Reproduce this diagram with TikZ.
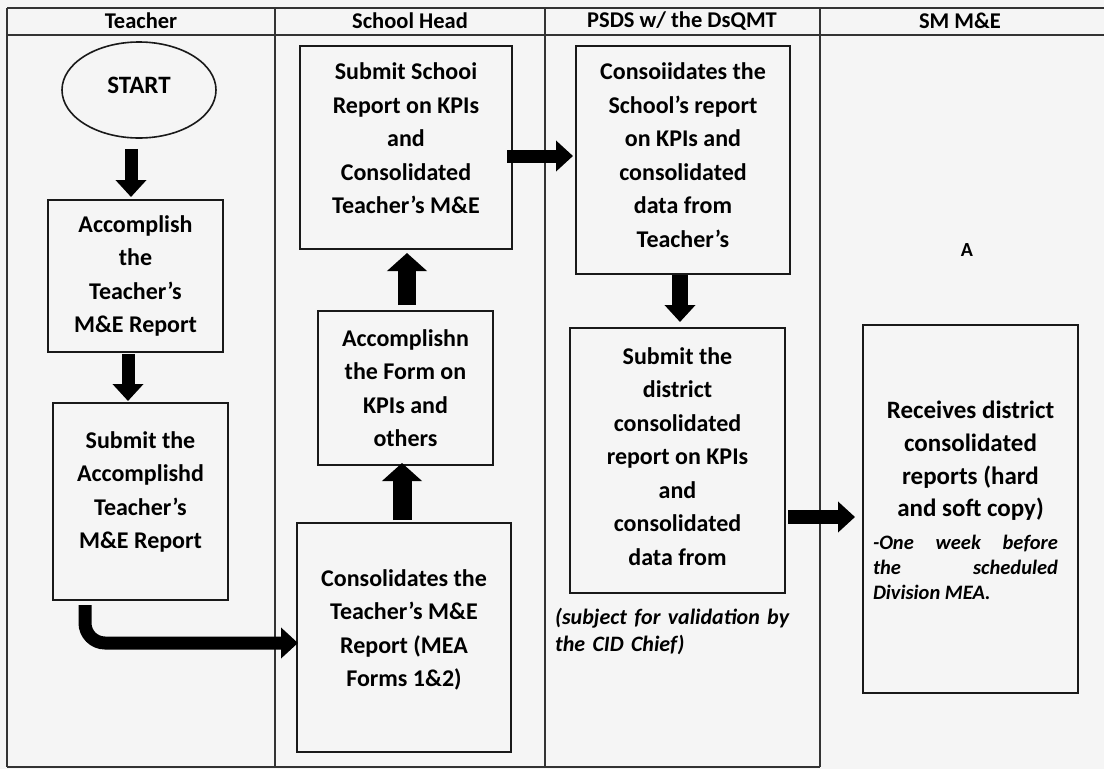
\documentclass[tikz,border=0pt]{standalone}
\usepackage{fontspec}
\setmainfont{Carlito}
\usetikzlibrary{arrows.meta,shapes.geometric}
\begin{document}
\begin{tikzpicture}[x=1pt,y=-1pt,
  rule/.style={draw=black!80,line width=1.1pt},
  box/.style={draw=black!90,line width=2pt,rectangle,inner sep=0pt,outer sep=0pt},
  txt/.style={align=center,inner sep=0pt,font=\fontsize{24}{33.5}\selectfont\bfseries},
  hdr/.style={inner sep=0pt,font=\fontsize{22.5}{26}\selectfont\bfseries},
  note/.style={inner sep=0pt,font=\fontsize{22}{27}\selectfont\bfseries\itshape},
  fat/.style={draw=black,line width=#1},
  tipS/.style={-{Triangle[width=30pt,length=17pt]}},
  tipL/.style={-{Triangle[width=39pt,length=18pt]}},
]
\useasboundingbox (0,0) rectangle (1104,769);
\fill[black!4] (0,0) rectangle (1104,769);

% lane grid
\draw[rule] (7,8) -- (1104,8);
\draw[rule] (7,35) -- (1104,35);
\draw[rule] (7,767) -- (820,767);
\foreach \x in {7,275,545,820} \draw[rule] (\x,8) -- (\x,767);

% lane titles
\node[hdr] (h1) at (141,21) {Teacher};
\node[hdr] (h2) at (410,21) {School Head};
\node[hdr] (h3) at (682,21) {PSDS w/ the DsQMT};
\node[hdr] (h4) at (960,21) {SM M\&E};

% Teacher lane
\node[draw=black!90,line width=1.6pt,ellipse,minimum width=154pt,minimum height=96pt,inner sep=0pt] (start) at (139,90) {};
\node[txt,font=\fontsize{25}{30}\selectfont\bfseries] (startlbl) at (139,85) {START};
\node[box,minimum width=175pt,minimum height=152pt] (a1) at (135.5,276) {};
\node[txt] (a1lbl) at (135.5,276) {Accomplish\\the\\Teacher’s\\M\&E Report};
\node[box,minimum width=175pt,minimum height=197pt] (t2) at (140.5,501.5) {};
\node[txt] (t2lbl) at (140.5,492) {Submit the\\Accomplishd\\Teacher’s\\M\&E Report};

% School Head lane
\node[box,minimum width=212pt,minimum height=203pt] (sh1) at (406,147.5) {};
\node[txt] (sh1lbl) at (406,138.5) {Submit Schooi\\Report on KPIs\\and\\Consolidated\\Teacher’s M\&E};
\node[box,minimum width=175pt,minimum height=154pt] (sh2) at (405.5,388) {};
\node[txt] (sh2lbl) at (405.5,388) {Accomplishn\\the Form on\\KPIs and\\others};
\node[box,minimum width=214pt,minimum height=229pt] (sh3) at (404,637.5) {};
\node[txt] (sh3lbl) at (404,630) {Consolidates the\\Teacher’s M\&E\\Report (MEA\\Forms 1\&2)};

% PSDS lane
\node[box,minimum width=214pt,minimum height=228pt] (p1) at (683,160) {};
\node[txt] (p1lbl) at (683,155) {Consoiidates the\\School’s report\\on KPIs and\\consolidated\\data from\\Teacher’s};
\node[box,minimum width=215pt,minimum height=265pt] (p2) at (677.5,460.5) {};
\node[txt] (p2lbl) at (677.5,456.5) {Submit the\\district\\consolidated\\report on KPIs\\and\\consolidated\\data from};
\node[note,anchor=west,text width=250pt,align=left] (p2note) at (555,631.5) {(subject for validation by\\the CID Chief)};

% SM M&E lane
\node[txt,font=\fontsize{20}{24}\selectfont\bfseries] (mark) at (967,250) {A};
\node[box,minimum width=215pt,minimum height=368pt] (r) at (970.5,509) {};
\node[txt,font=\fontsize{25}{32.7}\selectfont\bfseries] (rlbl) at (970.5,461) {Receives district\\consolidated\\reports (hard\\and soft copy)};
\node[note,font=\fontsize{20.5}{25}\selectfont\bfseries\itshape,text width=185pt,align=justify] (rnote) at (965.5,567) {-One week before\linebreak the scheduled\linebreak Division MEA.};

% flow arrows
\draw[fat=13pt,tipS,shorten <=10pt,shorten >=3pt] ([xshift=-8pt]start.south) -- ([xshift=-4.5pt]a1.north);
\draw[fat=13pt,tipS,shorten <=2pt,shorten >=2pt] ([xshift=-7.5pt]a1.south) -- ([xshift=-12.5pt]t2.north);
\draw[fat=13pt,tipS,rounded corners=20pt,shorten <=5pt,shorten >=-1pt] ([xshift=-55.5pt]t2.south) |- ([yshift=-5.5pt]sh3.west);
\draw[fat=19pt,tipL,shorten <=3pt,shorten >=-2pt] ([xshift=-2pt]sh3.north) -- ([xshift=-3.5pt]sh2.south);
\draw[fat=18pt,tipL,shorten <=6pt,shorten >=4pt] ([xshift=1.5pt]sh2.north) -- ([xshift=1pt]sh1.south);
\draw[fat=13pt,tipS,shorten <=-5pt,shorten >=3pt] ([yshift=-8.5pt]sh1.east) -- ([yshift=4pt]p1.west);
\draw[fat=16pt,tipS,shorten <=1pt,shorten >=6pt] ([xshift=-3pt]p1.south) -- ([xshift=2.5pt]p2.north);
\draw[fat=14pt,tipS,shorten <=3pt,shorten >=8pt] ([yshift=-56.5pt]p2.east) -- ([yshift=-8pt]r.west);
\end{tikzpicture}
\end{document}
